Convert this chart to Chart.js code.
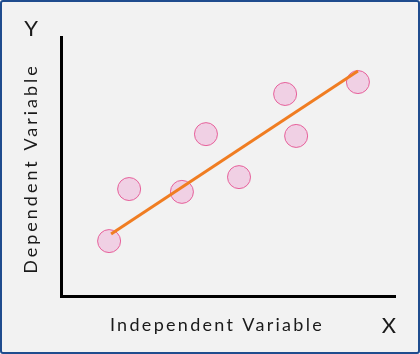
<!DOCTYPE html>
<html>
<head>
<meta charset="utf-8">
<script src="https://cdn.jsdelivr.net/npm/chart.js@4.4.1/dist/chart.umd.min.js"></script>
<style>
  html, body { margin: 0; padding: 0; background: #ffffff; }
  #wrap { position: relative; width: 420px; height: 354px; box-sizing: border-box;
          border: 2px solid #1f4c8e; border-radius: 3px; background: #f2f2f2; overflow: hidden; }
  #c { position: absolute; left: -2px; top: -2px; }
</style>
</head>
<body>
<div id="wrap"><canvas id="c" width="420" height="354"></canvas></div>
<script>
// Data (arbitrary units, 0-100 on each axis)
const pointX = [14.4, 20.4, 36.2, 43.4, 53.3, 67.1, 70.4, 88.9];
const pointY = [21.2, 41.3, 40.2, 62.5, 45.9, 78.0, 61.8, 82.6];
const fitX = [15.0, 88.9];
const fitY = [23.9, 86.9];
const xTitle = 'Independent Variable';
const yTitle = 'Dependent Variable';
const xLetter = 'X';
const yLetter = 'Y';

const FONT = 'Lato, "Open Sans", sans-serif';

const labelPlugin = {
  id: 'labels',
  afterDraw(chart) {
    const ctx = chart.ctx;
    const a = chart.chartArea;
    ctx.save();
    ctx.fillStyle = '#1a1a1a';
    ctx.textBaseline = 'alphabetic';
    // X axis title
    ctx.font = '18px ' + FONT;
    ctx.letterSpacing = '2.3px';
    ctx.textAlign = 'center';
    ctx.fillText(xTitle, a.left + 156, a.bottom + 35);
    // Y axis title (rotated)
    ctx.save();
    ctx.letterSpacing = '3px';
    ctx.translate(a.left - 24, (a.top + a.bottom) / 2 + 2);
    ctx.rotate(-Math.PI / 2);
    ctx.fillText(yTitle, 0, 0);
    ctx.restore();
    // Axis letters
    ctx.letterSpacing = '0px';
    ctx.font = '22px ' + FONT;
    ctx.fillText(yLetter, a.left - 30, a.top - 1);
    ctx.fillText(xLetter, a.right - 6, a.bottom + 37);
    ctx.restore();
  }
};

new Chart(document.getElementById('c'), {
  type: 'scatter',
  data: {
    datasets: [
      {
        type: 'line',
        data: fitX.map((x, i) => ({ x, y: fitY[i] })),
        borderColor: '#f07d22',
        borderWidth: 3,
        pointRadius: 0,
        fill: false,
        order: 0
      },
      {
        data: pointX.map((x, i) => ({ x, y: pointY[i] })),
        backgroundColor: '#f0d0e4',
        borderColor: '#e6609a',
        borderWidth: 1,
        pointRadius: 11.5,
        order: 1
      }
    ]
  },
  options: {
    responsive: false,
    animation: false,
    layout: { padding: { left: 61, top: 37, right: 25, bottom: 58 } },
    plugins: { legend: { display: false }, tooltip: { enabled: false } },
    scales: {
      x: {
        min: 0, max: 100,
        ticks: { display: false },
        grid: { display: false, drawTicks: false },
        border: { display: true, color: '#000000', width: 3 }
      },
      y: {
        min: 0, max: 100,
        ticks: { display: false },
        grid: { display: false, drawTicks: false },
        border: { display: true, color: '#000000', width: 3 }
      }
    }
  },
  plugins: [labelPlugin]
});
</script>
</body>
</html>
